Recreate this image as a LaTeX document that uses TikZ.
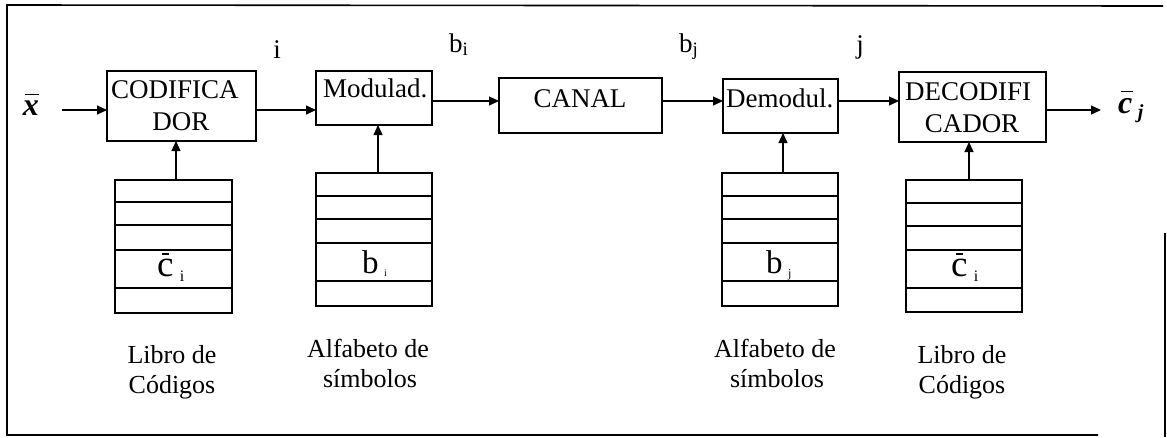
\documentclass[tikz,border=0pt]{standalone}
\usepackage{fontspec}
\setmainfont{Liberation Serif}
\usetikzlibrary{arrows.meta}
\tikzset{
  blk/.style={draw, line width=1.3pt, inner sep=0pt},
  lbl/.style={font=\fontsize{27}{30}\selectfont, inner sep=0pt, anchor=base},
  lblw/.style={lbl, anchor=base west},
  flow/.style={line width=1.3pt, -{Triangle[length=10pt,width=9pt]}},
  tab/.style={line width=1.6pt},
  row/.style={line width=1.3pt},
  frame/.style={line width=1.6pt},
  entry/.style={font=\fontsize{33}{36}\selectfont, inner sep=0pt, anchor=base west},
  entryc/.style={entry, font=\fontsize{37}{40}\selectfont},
  captext/.style={font=\fontsize{26}{30}\selectfont, inner sep=0pt, anchor=base},
}
% a letter with a short bar above it: #1 bar height, #2 bar length, #3 shift, #4 letter
\newcommand{\barred}[4]{\ooalign{#4\cr\hidewidth\kern#3\rule[#1]{#2}{0.05em}\hidewidth\cr}}
\newcommand{\subidx}[2]{\raisebox{-5pt}{\fontsize{#1}{#1}\selectfont #2}}
\newcommand{\codetable}[8]{%
  % #1 left, #2 right, #3 top, #4..#7 row separators, #8 bottom
  \draw[tab] (#1,#3) rectangle (#2,#8);
  \foreach \yy in {#4,#5,#6,#7} \draw[row] (#1,\yy) -- (#2,\yy);
}
\begin{document}
\begin{tikzpicture}[x=1pt,y=-1pt]
\useasboundingbox (0,0) rectangle (1167,437);

% outer frame
\draw[frame] (1163,6) -- (7,5) -- (7,435) -- (1098,435);
\draw[frame] (1165,233) -- (1165,437);

% processing blocks
\draw[blk] (107,71) rectangle (256,141);
\node[lblw] (cod) at (111,98) {CODIFICA};
\node[lbl] (cod2) at (181,130) {DOR};
\coordinate (codW) at (107,110);
\coordinate (codE) at (256,110);
\coordinate (codS) at (176,141);

\draw[blk] (316,71) rectangle (432,125);
\node[lblw] (mod) at (323,97) {Modulad.};
\coordinate (modW) at (316,110);
\coordinate (modE) at (432,101);
\coordinate (modS) at (378,125);

\draw[blk] (499,78) rectangle (662,133);
\node[lbl] (can) at (580,107) {CANAL};
\coordinate (canW) at (499,101);
\coordinate (canE) at (662,101);

\draw[blk] (723,79) rectangle (838,133);
\node[lblw] (dem) at (726,107) {Demodul.};
\coordinate (demW) at (723,101);
\coordinate (demE) at (838,101);
\coordinate (demS) at (783,133);

\draw[blk] (899,72) rectangle (1046,142);
\node[lblw] (dec) at (905,100) {DECODIFI};
\node[lbl] (dec2) at (972,132) {CADOR};
\coordinate (decW) at (899,101);
\coordinate (decE) at (1046,110);
\coordinate (decS) at (969,142);

% input / output symbols
\node[font=\fontsize{32}{34}\selectfont\bfseries\itshape, inner sep=0pt, anchor=base] (xin) at (31,115)
  {\barred{.62em}{.45em}{.08em}{x}};
\node[font=\fontsize{32}{34}\selectfont\bfseries\itshape, inner sep=0pt, anchor=base west] (cout) at (1118,113)
  {\barred{.65em}{.38em}{.1em}{c}\,\subidx{20}{j}};
\coordinate (xinE) at (62,110);
\coordinate (coutW) at (1101,110);

% symbols over the links
\node[lbl] (li) at (277,58) {i};
\node[lblw] (lbi) at (449,52) {b\textsubscript{i}};
\node[lblw] (lbj) at (679,52) {b\textsubscript{j}};
\node[lbl] (lj) at (860,53) {j};

% signal path
\draw[flow] (xinE) -- (codW);
\draw[flow] (codE) -- (modW);
\draw[flow] (modE) -- (canW);
\draw[flow] (canE) -- (demW);
\draw[flow] (demE) -- (decW);
\draw[flow] (decE) -- (coutW);

% code books and symbol alphabets
\codetable{115}{232}{180}{202}{225}{250}{288}{313}
\codetable{316}{432}{173}{196}{219}{243}{281}{306}
\codetable{722}{838}{173}{196}{219}{243}{281}{306}
\codetable{906}{1022}{180}{203}{226}{250}{288}{312}

\coordinate (t1) at (176,180);
\coordinate (t2) at (378,173);
\coordinate (t3) at (783,173);
\coordinate (t4) at (969,180);
\draw[flow] (t1) -- (codS);
\draw[flow] (t2) -- (modS);
\draw[flow] (t3) -- (demS);
\draw[flow] (t4) -- (decS);

% entries inside the tables
\node[entryc] (e1) at (157,276) {\barred{.56em}{.2em}{0em}{c}\,\subidx{16}{i}};
\node[entry] (e2) at (362,273) {\barred{.88em}{.45em}{0em}{b}\,\raisebox{-3pt}{\fontsize{10}{10}\selectfont i}};
\node[entry] (e3) at (766,273) {\barred{.88em}{.45em}{0em}{b}\,\raisebox{-4pt}{\fontsize{12}{12}\selectfont j}};
\node[entryc] (e4) at (951,276) {\barred{.56em}{.2em}{0em}{c}\,\subidx{16}{i}};

% captions
\node[captext] (c1a) at (172,363) {Libro de};
\node[captext] (c1b) at (172,393) {Códigos};
\node[captext] (c2a) at (368,357) {Alfabeto de};
\node[captext] (c2b) at (370,387) {símbolos};
\node[captext] (c3a) at (775,357) {Alfabeto de};
\node[captext] (c3b) at (777,387) {símbolos};
\node[captext] (c4a) at (962,363) {Libro de};
\node[captext] (c4b) at (962,393) {Códigos};
\end{tikzpicture}
\end{document}
